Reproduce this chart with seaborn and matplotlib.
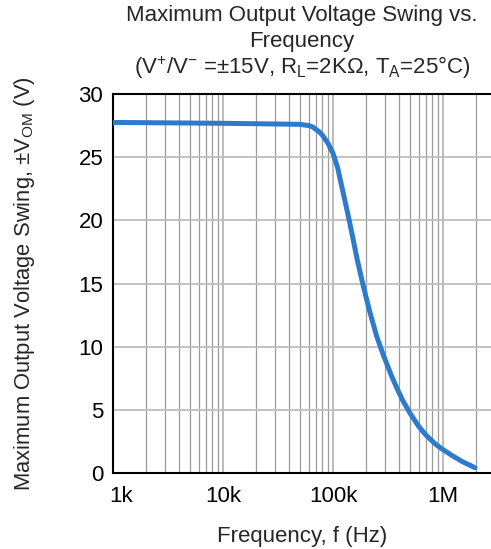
import matplotlib
matplotlib.use("Agg")
import matplotlib.pyplot as plt
import matplotlib.transforms as mtransforms
import seaborn as sns
import pandas as pd

# ---- data ----
freq_hz = [1e3, 10e3, 50e3, 60e3, 65e3, 70e3, 75e3, 80e3, 90e3, 100e3, 110e3, 120e3,
           135e3, 150e3, 165e3, 184e3, 200e3, 217e3, 250e3, 285e3, 340e3, 382e3,
           430e3, 500e3, 600e3, 700e3, 850e3, 1.0e6, 1.2e6, 1.5e6, 1.75e6, 1.95e6]
vom_v = [27.75, 27.68, 27.6, 27.5, 27.4, 27.2, 27.0, 26.75, 26.1, 25.3, 24.2, 22.7,
         20.7, 18.8, 17.0, 15.2, 13.9, 12.7, 10.8, 9.4, 7.7, 6.7,
         5.75, 4.75, 3.7, 3.0, 2.3, 1.85, 1.4, 0.9, 0.62, 0.42]
x_ticks = [1e3, 1e4, 1e5, 1e6]
x_ticklabels = ["1k", "10k", "100k", "1M"]
y_ticks = [0, 5, 10, 15, 20, 25, 30]

df = pd.DataFrame({"f": freq_hz, "v": vom_v})

sns.set_style("white")
plt.rcParams["font.family"] = ["Liberation Sans", "DejaVu Sans"]
plt.rcParams["mathtext.fontset"] = "custom"
plt.rcParams["mathtext.rm"] = "Liberation Sans"
plt.rcParams["mathtext.it"] = "Liberation Sans:italic"
plt.rcParams["mathtext.bf"] = "Liberation Sans:bold"

FS = 16.0

fig = plt.figure(figsize=(4.91, 5.49), dpi=100)
ax = fig.add_axes([113/491, 1-473/549, 1-113/491, (473-94)/549])

ax.set_xscale("log")
ax.set_xlim(1e3, 10**(3 + (491-113)/110))
ax.set_ylim(0, 30)

# grid
minor_locs = [m * 10**d for d in range(3, 7) for m in range(2, 10)]
for x in minor_locs:
    ax.axvline(x, color="#9a9a9a", lw=0.9, zorder=0)
for x in x_ticks:
    ax.axvline(x, color="#b5b5b5", lw=1.3, zorder=0)
for y in y_ticks[1:-1]:
    ax.axhline(y, color="#bdbdbd", lw=1.3, zorder=0)

sns.lineplot(data=df, x="f", y="v", ax=ax, color="#2e7bcb", lw=3.6,
             solid_capstyle="round", solid_joinstyle="round", zorder=3)

ax.set_xticks(x_ticks)
ax.set_xticklabels(x_ticklabels)
ax.xaxis.set_minor_locator(matplotlib.ticker.NullLocator())
ax.set_yticks(y_ticks)
ax.tick_params(axis="both", labelsize=FS, length=0, colors="black")
ax.tick_params(axis="x", pad=9)
ax.tick_params(axis="y", length=4, color="#9a9a9a", pad=3)

# shift the first x label right
off = mtransforms.ScaledTranslation(8/100, 0, fig.dpi_scale_trans)
lbl0 = ax.get_xticklabels()[0]
lbl0.set_transform(lbl0.get_transform() + off)

for s in ["left", "bottom", "top"]:
    ax.spines[s].set_visible(True)
    ax.spines[s].set_color("black")
    ax.spines[s].set_linewidth(1.5)
ax.spines["right"].set_visible(False)

ax.set_xlabel("Frequency, f (Hz)", fontsize=FS, labelpad=14)
ax.set_ylabel(r"Maximum Output Voltage Swing, ±V$_{\mathrm{OM}}$ (V)", fontsize=15.8, labelpad=30)

fig.text(302/491, 1-16/549, "Maximum Output Voltage Swing vs.", ha="center", va="center", fontsize=FS)
fig.text(302/491, 1-42/549, "Frequency", ha="center", va="center", fontsize=FS)
fig.text(302/491, 1-68/549,
         r"(V$^{+}$/V$^{-}$ =±15V, R$_{\mathrm{L}}$=2KΩ, T$_{\mathrm{A}}$=25°C)",
         ha="center", va="center", fontsize=FS)

fig.savefig("out.png", dpi=100)
